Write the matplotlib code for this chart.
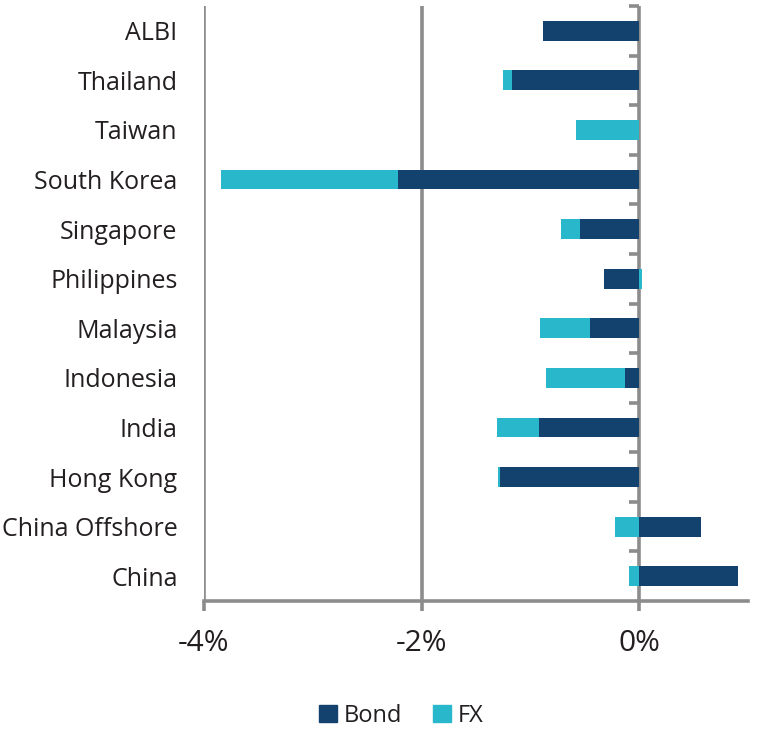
import numpy as np
import matplotlib
matplotlib.use("Agg")
import matplotlib.pyplot as plt
from matplotlib.patches import Patch

plt.rcParams['font.family'] = ['Open Sans', 'DejaVu Sans']

# Return contribution by market (%), top to bottom as in the chart
categories = ["ALBI", "Thailand", "Taiwan", "South Korea", "Singapore",
              "Philippines", "Malaysia", "Indonesia", "India", "Hong Kong",
              "China Offshore", "China"]
bond = [-0.886, -1.17, 0.0, -2.219, -0.543, -0.322, -0.453, -0.131,
        -0.92, -1.281, 0.564, 0.907]
fx = [0.0, -0.083, -0.579, -1.622, -0.172, 0.03, -0.46, -0.727,
      -0.386, -0.013, -0.223, -0.089]
xticks = [-4, -2, 0]
xticklabels = ["-4%", "-2%", "0%"]

BOND_C = "#13426E"
FX_C = "#29B8CB"
GREY = "#8C8C8C"
TXT = "#231F20"
LW = 2.6

bond = np.array(bond)
fx = np.array(fx)
n = len(categories)
y = np.arange(n)[::-1]

# FX stacks onto the bond bar when both point the same way, else starts at 0
fx_left = np.where(np.sign(fx) == np.sign(bond), bond, 0.0)

fig = plt.figure(figsize=(7.62, 7.35), dpi=100)
ax = fig.add_axes([0.2677, 0.1823, 0.7139, 0.8095])

ax.barh(y, bond, height=0.4, color=BOND_C, zorder=3)
ax.barh(y, fx, left=fx_left, height=0.4, color=FX_C, zorder=3)

ax.set_xlim(-4, 1)
ax.set_ylim(-0.5, n - 0.5)

# vertical gridlines (the one at 0 doubles as the category axis)
for xv in xticks:
    ax.axvline(xv, color=GREY, lw=LW, zorder=2)

# category-boundary ticks on the zero line, pointing left
bounds = np.arange(1, n + 1) - 0.5
ax.hlines(bounds, -0.09, 0, color=GREY, lw=LW, zorder=2, clip_on=False)

ax.set_xticks(xticks)
ax.set_xticklabels(xticklabels, fontsize=21.5, color=TXT)
ax.tick_params(axis='x', length=7, width=LW, color=GREY, pad=13)

ax.set_yticks(y)
ax.set_yticklabels(categories, fontsize=18, color=TXT)
ax.tick_params(axis='y', length=0, pad=19)

for s in ['left', 'right', 'top']:
    ax.spines[s].set_visible(False)
ax.spines['bottom'].set_color(GREY)
ax.spines['bottom'].set_linewidth(LW)

handles = [Patch(color=BOND_C, label="Bond"), Patch(color=FX_C, label="FX")]
fig.legend(handles=handles, loc='center', bbox_to_anchor=(0.527, 0.026),
           ncol=2, frameon=False, fontsize=17, handlelength=0.75,
           handleheight=0.75, handletextpad=0.3, columnspacing=1.3,
           labelcolor=TXT)

fig.savefig("out.png", dpi=100)
